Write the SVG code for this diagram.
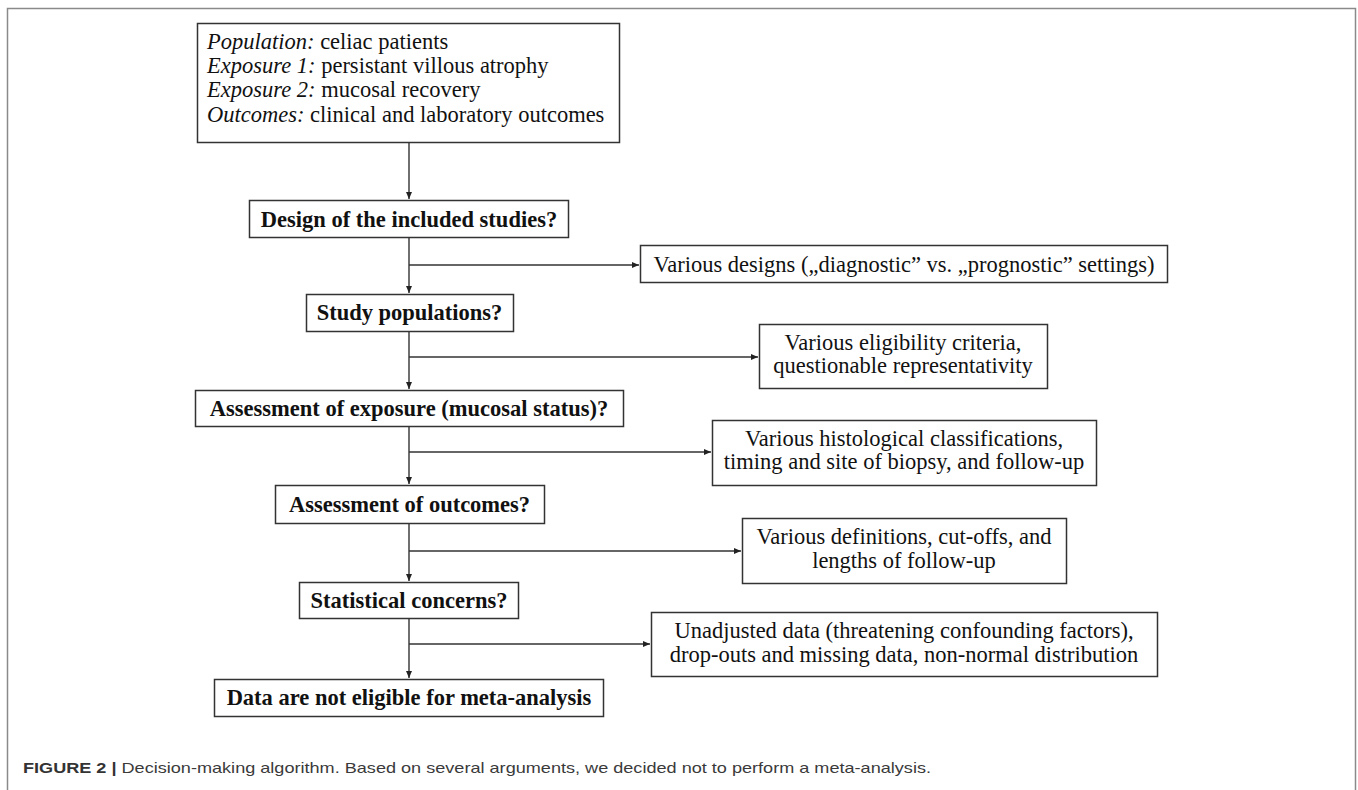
<svg xmlns="http://www.w3.org/2000/svg" width="1358" height="790" viewBox="0 0 1358 790">
<defs>
<marker id="ah" markerWidth="8" markerHeight="8" refX="7" refY="4" orient="auto" markerUnits="userSpaceOnUse">
<path d="M0,1 L7,4 L0,7 Z" fill="#222"/>
</marker>
<style>
.box{fill:#fff;stroke:#333;stroke-width:1.5}
.t{font-family:"Liberation Serif","Times New Roman",serif;font-size:22.5px;fill:#111}
.b{font-family:"Liberation Serif","Times New Roman",serif;font-size:22.5px;font-weight:bold;fill:#111}
.c{text-anchor:middle}
.i{font-style:italic}
.ln{stroke:#333;stroke-width:1.4;fill:none}
.cap{font-family:"Liberation Sans",Arial,sans-serif;font-size:15px;fill:#3a3a3a}
</style>
</defs>
<rect width="1358" height="790" fill="#fff"/>
<path d="M7.5,790 V8.5 H1355.5 V790" fill="none" stroke="#8a8a8a" stroke-width="1.5"/>

<g id="connectors">
<line class="ln" x1="409" y1="142" x2="409" y2="199" marker-end="url(#ah)"/>
<line class="ln" x1="409" y1="237" x2="409" y2="293" marker-end="url(#ah)"/>
<line class="ln" x1="409" y1="265" x2="639" y2="265" marker-end="url(#ah)"/>
<line class="ln" x1="409" y1="331" x2="409" y2="389" marker-end="url(#ah)"/>
<line class="ln" x1="409" y1="357" x2="758" y2="357" marker-end="url(#ah)"/>
<line class="ln" x1="409" y1="426" x2="409" y2="484" marker-end="url(#ah)"/>
<line class="ln" x1="409" y1="452" x2="711" y2="452" marker-end="url(#ah)"/>
<line class="ln" x1="409" y1="523" x2="409" y2="581" marker-end="url(#ah)"/>
<line class="ln" x1="409" y1="551" x2="741" y2="551" marker-end="url(#ah)"/>
<line class="ln" x1="409" y1="618" x2="409" y2="678" marker-end="url(#ah)"/>
<line class="ln" x1="409" y1="644" x2="650" y2="644" marker-end="url(#ah)"/>
</g>

<g id="pico">
<rect class="box" x="197.5" y="23.5" width="422" height="119"/>
<text class="t" x="207" y="49"><tspan class="i">Population:</tspan> celiac patients</text>
<text class="t" x="207" y="73"><tspan class="i">Exposure 1:</tspan> persistant villous atrophy</text>
<text class="t" x="207" y="97"><tspan class="i">Exposure 2:</tspan> mucosal recovery</text>
<text class="t" x="207" y="122"><tspan class="i">Outcomes:</tspan> clinical and laboratory outcomes</text>
</g>

<g id="design">
<rect class="box" x="249.5" y="200.5" width="319" height="37"/>
<text class="b c" x="409" y="227">Design of the included studies?</text>
</g>

<g id="designs-note">
<rect class="box" x="640.5" y="245.5" width="527" height="37"/>
<text class="t c" x="904" y="272">Various designs („diagnostic” vs. „prognostic” settings)</text>
</g>

<g id="populations">
<rect class="box" x="306.5" y="294.5" width="207" height="37"/>
<text class="b c" x="409.5" y="320">Study populations?</text>
</g>

<g id="populations-note">
<rect class="box" x="759.5" y="324.5" width="288" height="64"/>
<text class="t c" x="903" y="350">Various eligibility criteria,</text>
<text class="t c" x="903" y="373">questionable representativity</text>
</g>

<g id="exposure">
<rect class="box" x="195.5" y="390.5" width="428" height="36"/>
<text class="b c" x="409" y="416">Assessment of exposure (mucosal status)?</text>
</g>

<g id="exposure-note">
<rect class="box" x="712.5" y="420.5" width="384" height="65"/>
<text class="t c" x="904" y="446">Various histological classifications,</text>
<text class="t c" x="904" y="469">timing and site of biopsy, and follow-up</text>
</g>

<g id="outcomes">
<rect class="box" x="275.5" y="485.5" width="269" height="38"/>
<text class="b c" x="409.5" y="512">Assessment of outcomes?</text>
</g>

<g id="outcomes-note">
<rect class="box" x="742.5" y="518.5" width="324" height="65"/>
<text class="t c" x="904" y="544">Various definitions, cut-offs, and</text>
<text class="t c" x="904" y="568">lengths of follow-up</text>
</g>

<g id="statistics">
<rect class="box" x="299.5" y="582.5" width="219" height="36"/>
<text class="b c" x="409" y="608">Statistical concerns?</text>
</g>

<g id="statistics-note">
<rect class="box" x="651.5" y="612.5" width="506" height="64"/>
<text class="t c" x="904" y="638">Unadjusted data (threatening confounding factors),</text>
<text class="t c" x="904" y="662">drop-outs and missing data, non-normal distribution</text>
</g>

<g id="conclusion">
<rect class="box" x="214.5" y="679.5" width="389" height="37"/>
<text class="b c" x="409" y="705">Data are not eligible for meta-analysis</text>
</g>

<text class="cap" x="23" y="773" textLength="908" lengthAdjust="spacingAndGlyphs"><tspan font-weight="bold" fill="#333">FIGURE 2 |</tspan> Decision-making algorithm. Based on several arguments, we decided not to perform a meta-analysis.</text>
</svg>
